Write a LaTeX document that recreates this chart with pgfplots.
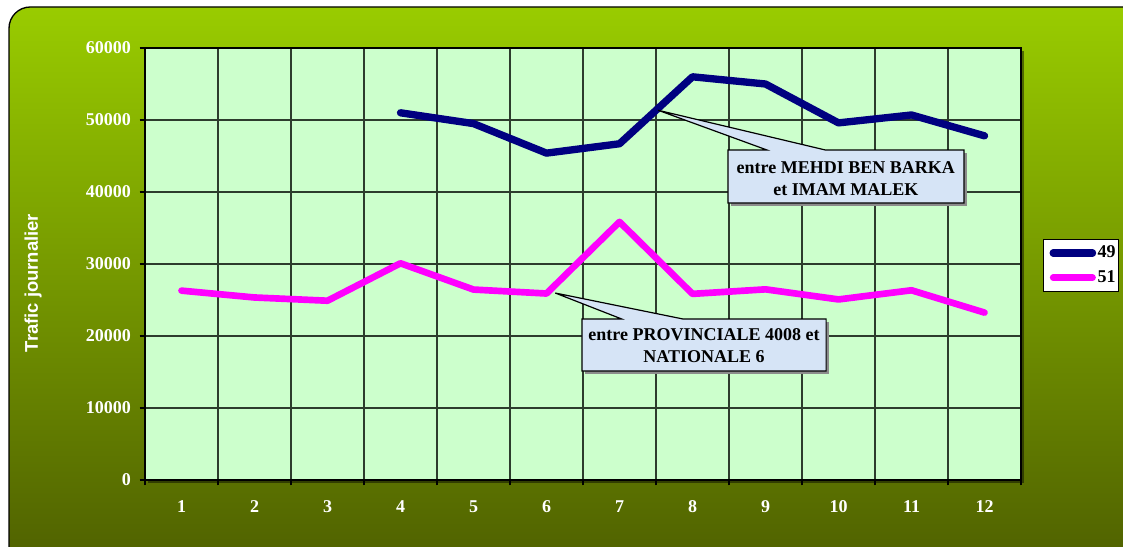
\documentclass[border=0pt]{standalone}
\usepackage{fontspec}
\setmainfont{Liberation Serif}
\newfontfamily\arialfont{Liberation Sans}
\usepackage{pgfplots}
\pgfplotsset{compat=1.18}

\definecolor{bgtop}{RGB}{153,204,0}
\definecolor{bgbot}{RGB}{78,95,0}
\definecolor{plotbg}{RGB}{204,255,204}
\definecolor{gridc}{RGB}{45,60,45}
\definecolor{navy49}{RGB}{0,0,128}
\definecolor{mag51}{RGB}{255,0,255}
\definecolor{callfill}{RGB}{214,228,246}

% daily traffic, months 1..12
\pgfplotstableread{
x y
4 51000
5 49500
6 45400
7 46700
8 56000
9 55000
10 49600
11 50700
12 47800
}\serieA
\pgfplotstableread{
x y
1 26300
2 25350
3 24900
4 30100
5 26450
6 25900
7 35850
8 25850
9 26480
10 25080
11 26350
12 23250
}\serieB

\begin{document}
\begin{tikzpicture}
\useasboundingbox (0,0) rectangle (842.25pt,409.5pt);
\clip (0,0) rectangle (842.25pt,409.5pt);
% rounded gradient panel
\shade[top color=bgtop, bottom color=bgbot, rounded corners=16pt]
  (6.75pt,404.25pt) rectangle (870pt,-20pt);
\draw[black, line width=1pt, rounded corners=16pt]
  (6.75pt,404.25pt) rectangle (870pt,-20pt);
% plot area shadow
\fill[black, opacity=0.45] (111pt,47.25pt) rectangle (768pt,371.25pt);

\begin{axis}[
  at={(108.75pt,49.5pt)}, anchor=origin,
  scale only axis, width=657pt, height=324pt,
  xmin=0.5, xmax=12.5, ymin=0, ymax=60000,
  axis background/.style={fill=plotbg},
  axis line style={black, line width=1.5pt},
  xtick={1,...,12},
  minor xtick={0.5,1.5,...,12.5},
  ytick={0,10000,...,60000},
  xtick pos=bottom, ytick pos=left,
  tick align=outside,
  major tick length=4pt, minor tick length=4pt,
  major x tick style={draw=none},
  minor x tick style={black, line width=0.8pt},
  major y tick style={black, line width=0.8pt},
  xminorgrids=true, ymajorgrids=true, xmajorgrids=false,
  minor x grid style={gridc, line width=0.8pt},
  major y grid style={gridc, line width=0.8pt},
  scaled y ticks=false,
  /pgf/number format/assume math mode=true,
  /pgf/number format/1000 sep={},
  tick label style={font=\fontsize{13.5}{16}\selectfont\bfseries, text=white},
  xticklabel style={yshift=-8pt},
  yticklabel style={xshift=-3pt},
  legend style={at={(1.0251,0.497)}, anchor=west, fill=white, draw=black,
    line width=0.8pt, inner xsep=1pt, inner ysep=4pt, row sep=6pt,
    font=\fontsize{13.5}{15}\selectfont\bfseries,
    nodes={inner sep=1pt, text=black}},
  legend cell align=left,
  legend image code/.code={\path (0pt,0pt); \draw[#1, line cap=round] (3.5pt,0pt) -- (33pt,0pt);},
]
\addplot[navy49, line width=5.5pt, line join=round, line cap=round] table {\serieA};
\addlegendentry{49}
\addplot[mag51, line width=5pt, line join=round, line cap=round] table {\serieB};
\addlegendentry{51}

% callout 1
\fill[black!45, xshift=2.5pt, yshift=-2.5pt]
  (axis cs:8.486,45833) -- (axis cs:11.72,45833) -- (axis cs:11.72,38472) -- (axis cs:8.486,38472) -- cycle;
\filldraw[fill=callfill, draw=black, line width=0.9pt, line join=miter]
  (axis cs:8.486,45833) -- (axis cs:9.02,45833) -- (axis cs:7.53,51350)
  -- (axis cs:9.82,45833) -- (axis cs:11.72,45833) -- (axis cs:11.72,38472)
  -- (axis cs:8.486,38472) -- cycle;
\node[align=center, font=\fontsize{13.5}{16.5}\selectfont\bfseries]
  at (axis cs:10.1,41900) {entre MEHDI BEN BARKA\\et IMAM MALEK};

% callout 2
\fill[black!45, xshift=2.5pt, yshift=-2.5pt]
  (axis cs:6.486,22361) -- (axis cs:9.83,22361) -- (axis cs:9.83,15139) -- (axis cs:6.486,15139) -- cycle;
\filldraw[fill=callfill, draw=black, line width=0.9pt, line join=miter]
  (axis cs:6.486,22361) -- (axis cs:7.03,22361) -- (axis cs:6.12,25970)
  -- (axis cs:7.87,22361) -- (axis cs:9.83,22361) -- (axis cs:9.83,15139)
  -- (axis cs:6.486,15139) -- cycle;
\node[align=center, font=\fontsize{13.5}{16.5}\selectfont\bfseries]
  at (axis cs:8.157,18600) {entre PROVINCIALE 4008 et\\NATIONALE 6};
\end{axis}

\node[rotate=90, text=white, font=\arialfont\fontsize{13.8}{16}\selectfont\bfseries]
  at (24.75pt,197.25pt) {Trafic journalier};
\end{tikzpicture}
\end{document}
